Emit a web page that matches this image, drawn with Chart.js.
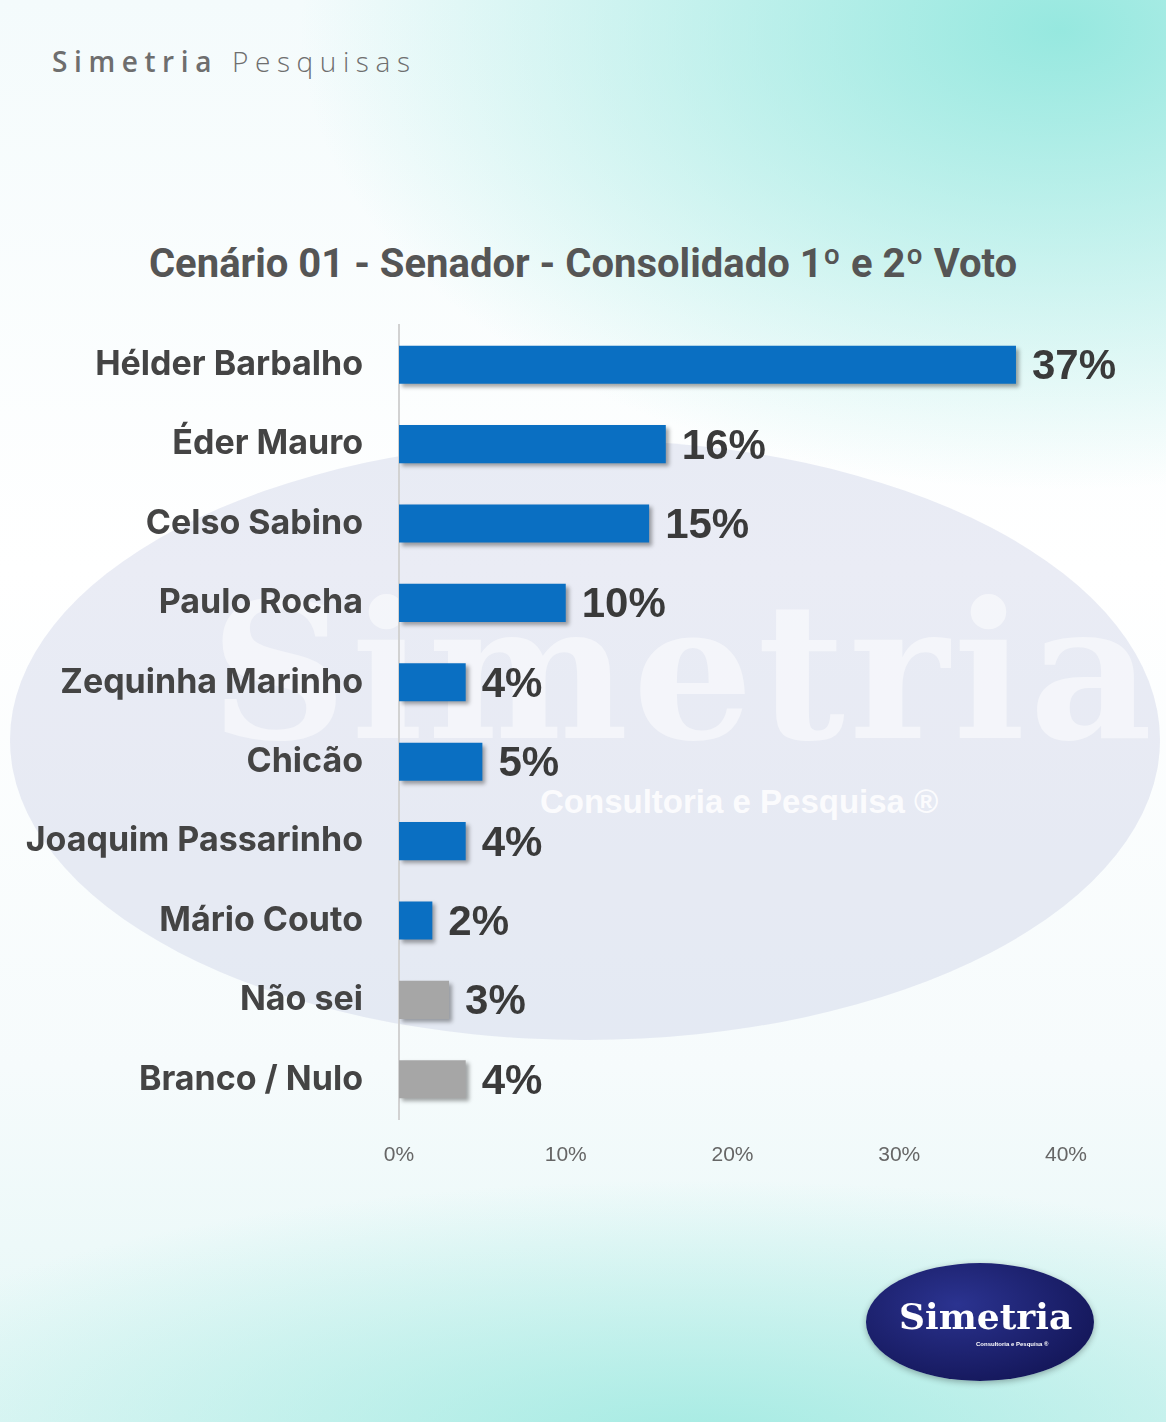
<!DOCTYPE html>
<html>
<head>
<meta charset="utf-8">
<script src="https://cdn.jsdelivr.net/npm/chart.js@4.4.1/dist/chart.umd.min.js"></script>
<style>
  html, body { margin: 0; padding: 0; }
  body { width: 1166px; height: 1422px; position: relative; overflow: hidden;
    background:
      radial-gradient(ellipse 760px 460px at 1060px 30px, rgba(140,230,220,0.9), rgba(140,230,220,0) 100%),
      radial-gradient(ellipse 900px 260px at 700px 1440px, rgba(150,232,222,0.8), rgba(150,232,222,0) 100%),
      linear-gradient(180deg, #f4fbfc 0%, #ffffff 40%, #f6fbfc 75%, #e4f7f6 100%);
  }
  .mark { position: absolute; left: 10px; top: 440px; width: 1150px; height: 600px; border-radius: 50%;
    background: rgba(185,192,222,0.3); }
  .mark-txt { position: absolute; left: 210px; top: 560px; font: bold 190px "DejaVu Serif", serif;
    color: rgba(255,255,255,0.5); letter-spacing: 4px; }
  .mark-sub { position: absolute; left: 540px; top: 783px; font: bold 33px "Liberation Sans", sans-serif;
    color: rgba(255,255,255,0.85); }
  .header { position: absolute; left: 52px; top: 42px; font: 28px "Open Sans", sans-serif; color: #6e6e6e;
    letter-spacing: 6.6px; }
  .header b { font-weight: 600; }
  .header span { font-weight: 300; }
  .title { position: absolute; left: 0; width: 1166px; top: 240px; text-align: center;
    font: bold 40px Roboto, sans-serif; color: #555; }
  canvas { position: absolute; left: 0; top: 0; }
  .logo { position: absolute; left: 866px; top: 1263px; width: 228px; height: 118px; border-radius: 50%;
    background: radial-gradient(ellipse at 40% 35%, #2b3390, #15185c 75%); box-shadow: 0 2px 6px rgba(0,0,0,0.3); }
  .logo .nm { position: absolute; left: 33px; top: 32px; font: bold 36px "DejaVu Serif", serif; color: #fff; }
  .logo .sb { position: absolute; left: 110px; top: 78px; font: bold 6px "Liberation Sans", sans-serif; color: #fff; }
</style>
</head>
<body>
<div class="mark"></div>
<div class="mark-txt">Simetria</div>
<div class="mark-sub">Consultoria e Pesquisa ®</div>
<div class="header"><b>Simetria</b> <span>Pesquisas</span></div>
<div class="title">Cenário 01 - Senador - Consolidado 1º e 2º Voto</div>
<canvas id="chart" width="1166" height="1422"></canvas>
<div class="logo"><div class="nm">Simetria</div><div class="sb">Consultoria e Pesquisa ®</div></div>
<script>
const candidates = ['Hélder Barbalho', 'Éder Mauro', 'Celso Sabino', 'Paulo Rocha', 'Zequinha Marinho',
  'Chicão', 'Joaquim Passarinho', 'Mário Couto', 'Não sei', 'Branco / Nulo'];
const votes = [37, 16, 15, 10, 4, 5, 4, 2, 3, 4];
const barColors = ['#0a6fc2', '#0a6fc2', '#0a6fc2', '#0a6fc2', '#0a6fc2', '#0a6fc2', '#0a6fc2', '#0a6fc2', '#a6a6a6', '#a6a6a6'];
const xTicks = [0, 10, 20, 30, 40];

const barShadow = {
  id: 'barShadow',
  beforeDatasetsDraw(chart) {
    const c = chart.ctx;
    c.save();
    c.shadowColor = 'rgba(0,0,0,0.35)';
    c.shadowBlur = 4;
    c.shadowOffsetX = 3;
    c.shadowOffsetY = 3;
  },
  afterDatasetsDraw(chart) {
    chart.ctx.restore();
    const c = chart.ctx;
    const meta = chart.getDatasetMeta(0);
    c.save();
    c.font = 'bold 42px "Liberation Sans", Arial, sans-serif';
    c.fillStyle = '#3a3a3a';
    c.textBaseline = 'middle';
    meta.data.forEach((bar, i) => {
      c.fillText(votes[i] + '%', bar.x + 16, bar.y + 3);
    });
    c.restore();
  }
};

new Chart(document.getElementById('chart').getContext('2d'), {
  type: 'bar',
  data: {
    labels: candidates,
    datasets: [{
      data: votes,
      backgroundColor: barColors,
      borderWidth: 0,
      barPercentage: 0.48,
      categoryPercentage: 1
    }]
  },
  options: {
    indexAxis: 'y',
    responsive: false,
    animation: false,
    devicePixelRatio: 1,
    layout: { padding: { top: 325, right: 100, bottom: 243, left: 0 } },
    plugins: { legend: { display: false }, tooltip: { enabled: false } },
    scales: {
      x: {
        min: 0, max: 40,
        afterFit(scale) { scale.height = 60; },
        afterBuildTicks(scale) { scale.ticks = xTicks.map(v => ({ value: v })); },
        grid: { display: false },
        border: { display: false },
        ticks: {
          padding: 16,
          color: '#666',
          font: { family: '"Liberation Sans", Arial, sans-serif', size: 21 },
          callback: v => v + '%'
        }
      },
      y: {
        afterFit(scale) { scale.width = 399; },
        grid: { display: false, drawTicks: false },
        border: { display: true, color: '#d2d2d2', width: 2 },
        ticks: {
          padding: 36,
          color: '#444',
          font: { family: 'Inter, sans-serif', size: 34, weight: 'bold' }
        }
      }
    }
  },
  plugins: [barShadow]
});
</script>
</body>
</html>
